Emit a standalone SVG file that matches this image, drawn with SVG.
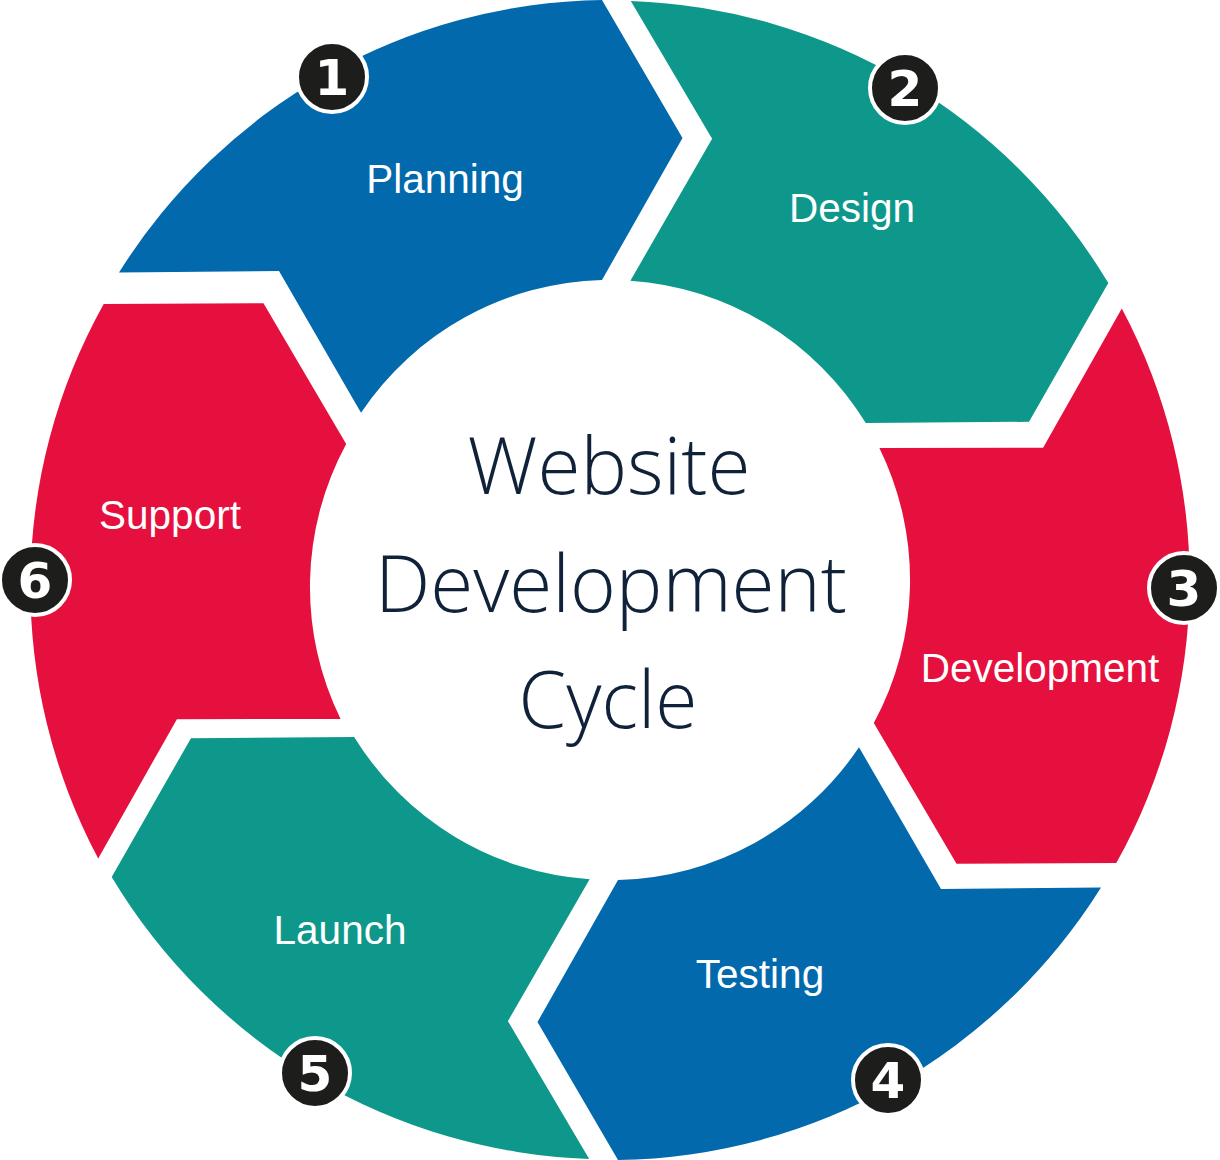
<svg xmlns="http://www.w3.org/2000/svg" width="1220" height="1160" viewBox="0 0 1220 1160">
  <style>
    .blue { fill: #0269AD; }
    .teal { fill: #0E988B; }
    .red { fill: #E5103D; }
    .label { font-family: "Liberation Sans", Arial, sans-serif; font-size: 40.5px; fill: #FFFFFF; text-anchor: middle; }
    .title { font-family: "Open Sans", "Noto Sans", sans-serif; font-weight: 300; font-size: 80px; fill: #10213A; text-anchor: middle; }
    .badge circle { fill: #1D1D1B; stroke: #FFFFFF; stroke-width: 4; }
    .badge text { font-family: "DejaVu Sans", Verdana, sans-serif; font-weight: bold; font-size: 50px; fill: #FFFFFF; text-anchor: middle; }
  </style>
  <defs>
    <path id="seg" d="M 119,272.5 A 580 580 0 0 1 602,0 L 682.5,138 L 602,280 A 300 300 0 0 0 361,412.7 L 279,271 Z"/>
  </defs>
  <rect x="0" y="0" width="1220" height="1160" fill="#FFFFFF"/>

  <g id="planning">
    <use href="#seg" class="blue"/>
    <text class="label" x="445" y="193">Planning</text>
  </g>
  <g id="design">
    <use href="#seg" class="teal" transform="rotate(60 610 580)"/>
    <text class="label" x="852" y="222">Design</text>
  </g>
  <g id="development">
    <use href="#seg" class="red" transform="rotate(120 610 580)"/>
    <text class="label" x="1040" y="682">Development</text>
  </g>
  <g id="testing">
    <use href="#seg" class="blue" transform="rotate(180 610 580)"/>
    <text class="label" x="760" y="988">Testing</text>
  </g>
  <g id="launch">
    <use href="#seg" class="teal" transform="rotate(240 610 580)"/>
    <text class="label" x="340" y="944">Launch</text>
  </g>
  <g id="support">
    <use href="#seg" class="red" transform="translate(0 7) rotate(300 610 580)"/>
    <text class="label" x="170" y="529">Support</text>
  </g>

  <g id="badges">
    <g id="badge1" class="badge"><circle cx="332" cy="77" r="35"/><text x="332" y="95">1</text></g>
    <g id="badge2" class="badge"><circle cx="905" cy="88" r="35"/><text x="905" y="106">2</text></g>
    <g id="badge3" class="badge"><circle cx="1184" cy="588" r="35"/><text x="1184" y="606">3</text></g>
    <g id="badge4" class="badge"><circle cx="888" cy="1080" r="35"/><text x="888" y="1098">4</text></g>
    <g id="badge5" class="badge"><circle cx="315" cy="1073" r="35"/><text x="315" y="1091">5</text></g>
    <g id="badge6" class="badge"><circle cx="35" cy="580" r="35"/><text x="35" y="598">6</text></g>
  </g>

  <g id="title">
    <text class="title" x="609" y="494" textLength="283" lengthAdjust="spacingAndGlyphs">Website</text>
    <text class="title" x="611" y="612" textLength="472" lengthAdjust="spacingAndGlyphs">Development</text>
    <text class="title" x="608" y="728" textLength="179" lengthAdjust="spacingAndGlyphs">Cycle</text>
  </g>

  <g id="connectors"></g>
</svg>
